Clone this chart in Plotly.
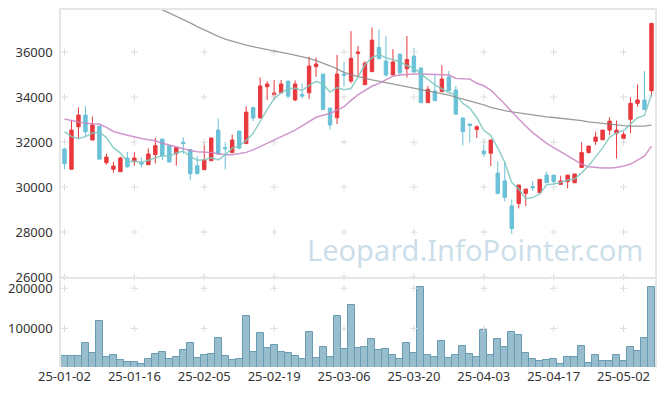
import plotly.graph_objects as go

dates = ["25-01-02","25-01-03","25-01-06","25-01-07","25-01-08","25-01-09","25-01-10","25-01-13","25-01-14","25-01-15",
         "25-01-16","25-01-17","25-01-20","25-01-21","25-01-22","25-01-23","25-01-24","25-01-31","25-02-03","25-02-04",
         "25-02-05","25-02-06","25-02-07","25-02-10","25-02-11","25-02-12","25-02-13","25-02-14","25-02-17","25-02-18",
         "25-02-19","25-02-20","25-02-21","25-02-24","25-02-25","25-02-26","25-02-27","25-02-28","25-03-04","25-03-05",
         "25-03-06","25-03-07","25-03-10","25-03-11","25-03-12","25-03-13","25-03-14","25-03-17","25-03-18","25-03-19",
         "25-03-20","25-03-21","25-03-24","25-03-25","25-03-26","25-03-27","25-03-28","25-03-31","25-04-01","25-04-02",
         "25-04-03","25-04-04","25-04-07","25-04-08","25-04-09","25-04-10","25-04-11","25-04-14","25-04-15","25-04-16",
         "25-04-17","25-04-18","25-04-21","25-04-22","25-04-23","25-04-24","25-04-25","25-04-28","25-04-29","25-04-30",
         "25-05-02","25-05-07","25-05-08","25-05-09","25-05-12"]

opens = [31690,30790,32680,33200,32090,32710,31080,30790,30680,31290,
         31130,31080,30990,31440,32130,31840,31480,31990,31670,30950,
         30770,31170,32530,31750,31530,32490,31930,33530,33070,34460,
         34100,34190,34710,33870,34120,34190,35350,35020,33510,33080,
         35020,34710,35940,34550,35130,36210,35600,34980,35910,35260,
         35820,35290,33750,34270,34240,34890,34310,33070,32800,32560,
         31600,31500,30620,30270,29160,29270,29720,30020,29750,30530,
         30530,30120,30240,30190,30870,31530,32030,32100,32530,32390,
         32160,33010,33720,33870,34280]
highs = [31750,32950,33540,33600,33130,32730,31480,31130,31350,31570,
         31540,31320,31720,32190,32130,31840,31750,32210,31670,31380,
         31990,32180,33050,31990,32330,32490,33590,33570,34870,34710,
         34760,34760,34710,34740,34610,35790,35760,35020,33510,35870,
         35560,36930,36270,35600,37100,37010,36710,36130,35910,36710,
         36190,35290,34490,34990,35410,35160,34490,33070,32800,32740,
         32120,32090,31140,31140,29450,30090,29910,30270,30340,30680,
         30530,30500,30530,30580,31990,31820,32460,32530,33100,32950,
         32460,33990,34560,35160,37300]
lows = [30790,30790,32160,32240,32090,31240,30990,30640,30680,30860,
        30950,30870,30990,31050,31200,31110,30950,31470,30300,30590,
        30770,31170,31470,30790,31530,31670,31930,32920,33070,33870,
        33870,34190,33930,33820,33930,33910,34900,33450,32560,32800,
        34460,34610,34900,34550,35130,35700,34900,34980,34980,34870,
        35110,33750,33750,33840,34240,34280,33240,31850,31970,32180,
        31350,30930,29670,29350,27910,29050,29160,29820,29750,30190,
        30090,30120,29940,30190,30870,31500,31870,32100,32310,31270,
        31970,32390,33570,33450,34020]
closes = [31040,32530,33200,32460,32760,31240,31330,30930,31290,30900,
          31290,31020,31470,31840,31390,31110,31750,31930,30590,30590,
          31200,32180,31470,31700,32090,31730,33330,33070,34490,34580,
          34180,34580,34040,34580,34040,35380,35470,33450,32760,35020,
          34960,35720,36000,35510,36530,35700,34980,35560,35080,35670,
          35110,33750,34340,33840,34800,34280,33240,32460,32740,32680,
          31480,32090,29720,29540,28150,30090,29910,29970,30340,30190,
          30240,30270,30530,30580,31530,31820,32220,32530,32930,32530,
          32340,33720,33870,33450,37270]

ma5 = [32460,32240,32160,32240,32400,32440,32200,31750,31510,31140,
       31150,31090,31190,31300,31400,31370,31510,31600,31350,31190,
       31210,31300,31210,31430,31730,31830,32070,32390,32940,33440,
       33930,34180,34370,34390,34280,34520,34700,34580,34220,34420,
       34330,34380,34890,35440,35750,35890,35750,35660,35570,35400,
       35280,35030,34790,34540,34370,34200,34100,33720,33510,33080,
       32520,32290,31740,31100,30200,29920,29480,29530,29690,30100,
       30130,30200,30310,30360,30630,30950,31340,31740,32210,32410,
       32510,32810,33080,33180,34130]
ma20 = [33020,32950,32880,32830,32810,32800,32650,32470,32380,32300,
        32240,32160,32100,32060,31950,31870,31770,31680,31620,31570,
        31550,31540,31480,31430,31430,31480,31540,31650,31800,31940,
        32080,32240,32380,32530,32720,32900,33100,33190,33270,33420,
        33570,33850,34100,34300,34480,34610,34770,34930,34980,35010,
        35020,35020,35020,35000,34990,34980,34830,34810,34800,34610,
        34500,34310,34010,33690,33350,33010,32710,32420,32160,31940,
        31750,31570,31410,31200,31020,30900,30860,30850,30850,30870,
        30930,31020,31200,31380,31820]
ma60 = [39910,39770,39620,39480,39330,39190,39040,38900,38750,38610,
        38460,38320,38170,38030,37880,37740,37600,37450,37300,37130,
        36980,36840,36700,36580,36480,36390,36310,36240,36170,36100,
        36040,35990,35930,35870,35810,35720,35620,35510,35390,35250,
        35100,35000,34900,34830,34760,34700,34640,34580,34520,34460,
        34400,34340,34290,34230,34150,34090,34000,33920,33840,33760,
        33650,33540,33460,33400,33340,33290,33240,33200,33160,33120,
        33090,33060,33030,32990,32950,32900,32860,32820,32790,32760,
        32730,32710,32700,32710,32750]
volumes = [32500,32500,32500,62500,40000,117500,30000,35000,22500,17500,
           17500,12500,25000,37500,42500,25000,30000,47500,62500,27500,
           35000,37500,75000,32500,22500,25000,130000,42500,87500,52500,
           60000,42500,40000,32500,25000,90000,27500,55000,30000,130000,
           50000,157500,52500,55000,72500,47500,50000,35000,25000,62500,
           40000,204000,35000,30000,67500,27500,35000,57500,37500,30000,
           95000,35000,72500,55000,90000,82500,40000,25000,20000,22500,
           25000,12500,30000,30000,57500,15000,35000,20000,20000,35000,
           20000,55000,45000,75000,204000]

price_ticks = [26000, 28000, 30000, 32000, 34000, 36000]
volume_ticks = [100000, 200000]
x_tick_idx = list(range(0, 85, 10))
x_ticks = [dates[i] for i in x_tick_idx]

FONT = "Noto Sans"
RED = "#e8383d"
BLUE = "#6ac1d8"
BORDER = "#e6e6e6"
CROSS = "#dcdcdc"

fig = go.Figure()

# grid crosses at tick intersections
cx, cy = [], []
for d in x_ticks:
    for p in price_ticks:
        cx.append(d); cy.append(p)
fig.add_trace(go.Scatter(x=cx, y=cy, mode="markers", xaxis="x", yaxis="y",
                         marker=dict(symbol="cross-thin", size=5, line=dict(color=CROSS, width=1)),
                         hoverinfo="skip", showlegend=False, cliponaxis=False))
vx, vy = [], []
for d in x_ticks:
    for v in volume_ticks:
        vx.append(d); vy.append(v)
fig.add_trace(go.Scatter(x=vx, y=vy, mode="markers", xaxis="x2", yaxis="y2",
                         marker=dict(symbol="cross-thin", size=5, line=dict(color=CROSS, width=1)),
                         hoverinfo="skip", showlegend=False))

fig.add_trace(go.Candlestick(x=dates, open=opens, high=highs, low=lows, close=closes,
                             xaxis="x", yaxis="y", whiskerwidth=0,
                             increasing=dict(line=dict(color=RED, width=1), fillcolor=RED),
                             decreasing=dict(line=dict(color=BLUE, width=1), fillcolor=BLUE),
                             showlegend=False))

fig.add_trace(go.Scatter(x=dates, y=ma60, mode="lines", xaxis="x", yaxis="y",
                         line=dict(color="rgba(130,130,130,0.8)", width=1.3), showlegend=False))
fig.add_trace(go.Scatter(x=dates, y=ma20, mode="lines", xaxis="x", yaxis="y",
                         line=dict(color="rgba(200,130,195,0.85)", width=1.5), showlegend=False))
fig.add_trace(go.Scatter(x=dates, y=ma5, mode="lines", xaxis="x", yaxis="y",
                         line=dict(color="rgba(125,200,190,0.85)", width=1.5), showlegend=False))

fig.add_trace(go.Bar(x=dates, y=volumes, xaxis="x2", yaxis="y2",
                     marker=dict(color="#98bece", line=dict(color="#6a9bb3", width=1)),
                     showlegend=False))

fig.add_annotation(text="Leopard.InfoPointer.com", xref="paper", yref="paper",
                   x=0.698, y=0.33, xanchor="center", yanchor="middle", showarrow=False,
                   font=dict(family=FONT, size=29, color="rgba(170,200,218,0.6)"))

# the page body adds an 8px margin around the figure, so the figure is sized to fit inside it
fig.update_layout(
    width=649, height=378,
    margin=dict(l=53, r=2, t=2, b=19),
    paper_bgcolor="white", plot_bgcolor="white",
    font=dict(family=FONT, size=13, color="#333"),
    bargap=0.0,
    xaxis=dict(domain=[0, 1], anchor="y", type="category", range=[-0.5, 84.5],
               categoryorder="array", categoryarray=dates, automargin=False,
               rangeslider=dict(visible=False), showticklabels=False, showgrid=False,
               showline=True, linecolor=BORDER, linewidth=2, mirror=True,
               tickvals=x_ticks, ticks=""),
    yaxis=dict(domain=[0.2521, 1], range=[26000, 37870], tickvals=price_ticks, tickformat="d",
               showgrid=False, zeroline=False, showline=True, linecolor=BORDER, linewidth=1.5,
               mirror=True, ticks="outside", ticklen=4, tickcolor="rgba(0,0,0,0)", automargin=False,
               tickfont=dict(size=13, color="#333")),
    xaxis2=dict(domain=[0, 1], anchor="y2", type="category", matches="x", range=[-0.5, 84.5],
                categoryorder="array", categoryarray=dates, automargin=False,
                showgrid=False, showline=False, tickvals=x_ticks, ticktext=x_ticks, tickangle=0,
                ticks="", tickfont=dict(size=13, color="#333")),
    yaxis2=dict(domain=[0, 0.2465], range=[4000, 223000], tickvals=volume_ticks, tickformat="d",
                showgrid=False, zeroline=False, showline=True, linecolor=BORDER, linewidth=1.5,
                mirror=True, ticks="outside", ticklen=4, tickcolor="rgba(0,0,0,0)", automargin=False,
                tickfont=dict(size=13, color="#333")),
    hovermode=False,
)

fig.write_html("out.html")
